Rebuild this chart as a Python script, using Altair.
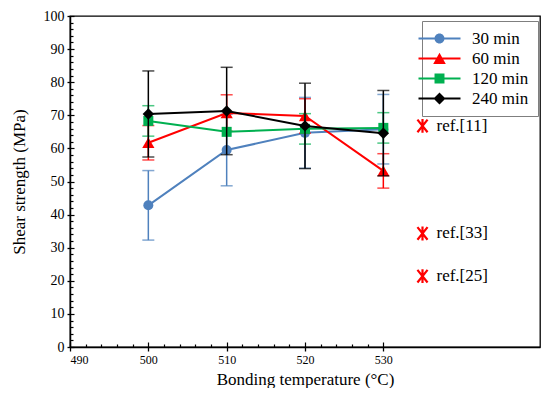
import altair as alt
import pandas as pd

# ---- data ----
temps = [500, 510, 520, 530]
series_names = ["30 min", "60 min", "120 min", "240 min"]
values = {
    "30 min": [42.8, 59.5, 64.7, 65.8],
    "60 min": [61.7, 70.7, 69.8, 53.2],
    "120 min": [68.3, 65.0, 65.9, 66.2],
    "240 min": [70.4, 71.3, 66.8, 64.6],
}
errors = {
    "30 min": [10.5, 10.8, 10.7, 10.5],
    "60 min": [5.2, 5.5, 5.2, 5.2],
    "120 min": [4.6, 0.0, 4.6, 4.6],
    "240 min": [13.0, 13.2, 12.9, 12.9],
}
ref_labels = ["ref.[11]", "ref.[33]", "ref.[25]"]
ref_values = [66.8, 34.3, 21.4]
ref_temp = [535, 535, 535]

x_ticks = [490, 500, 510, 520, 530]
y_ticks = [0, 10, 20, 30, 40, 50, 60, 70, 80, 90, 100]
x_minor = list(range(490, 531, 2))
y_minor = list(range(0, 101, 2))

# ---- styles ----
colors = ["#4F81BD", "#FF0000", "#00B050", "#000000"]
shapes = ["circle", "triangle-up", "square", "diamond"]
sizes = [100, 150, 100, 130]
LINE = "M-3.5,-0.17L3.5,-0.17L3.5,0.17L-3.5,0.17Z "
legend_paths = [
    LINE + "M0.83,0A0.83,0.83 0 1,1 -0.83,0A0.83,0.83 0 1,1 0.83,0Z",
    LINE + "M0,-0.95L1.05,0.9L-1.05,0.9Z",
    LINE + "M-0.83,-0.83L0.83,-0.83L0.83,0.83L-0.83,0.83Z",
    LINE + "M0,-1L1,0L0,1L-1,0Z",
]
FONT = "Liberation Serif"
W, H = 470, 331

rows = []
for s in series_names:
    for t, v, e in zip(temps, values[s], errors[s]):
        rows.append({"series": s, "temp": t, "value": v, "lo": v - e, "hi": v + e, "err": e})
df = pd.DataFrame(rows)
ref_df = pd.DataFrame({"temp": ref_temp, "value": ref_values, "label": ref_labels})

xscale = alt.Scale(domain=[490, 550], nice=False, zero=False)
yscale = alt.Scale(domain=[0, 100], nice=False)

x_axis = alt.Axis(values=x_ticks, format="d", grid=False, tickSize=4,
                  labelPadding=3, titlePadding=6, labelFontSize=12,
                  titleFontSize=17, domainColor="black", tickColor="black",
                  domainWidth=1.5, tickWidth=1.3)
y_axis = alt.Axis(values=y_ticks, grid=False, tickSize=3, labelPadding=3,
                  titlePadding=15, labelFontSize=14, titleFontSize=17,
                  domainColor="black", tickColor="black", domainWidth=1.5,
                  tickWidth=1.3)


def X(field):
    return alt.X(field, scale=xscale, axis=x_axis, title="Bonding temperature (°C)")


def Y(field):
    return alt.Y(field, scale=yscale, axis=y_axis, title="Shear strength (MPa)")


layers = []
for i, s in enumerate(series_names):
    sd = df[df["series"] == s]
    base = alt.Chart(sd)
    eb = sd[sd["err"] > 0]
    if len(eb):
        ebase = alt.Chart(eb)
        layers.append(ebase.mark_rule(color=colors[i], strokeWidth=1.5).encode(
            x=X("temp:Q"), y=Y("lo:Q"), y2="hi:Q"))
        layers.append(ebase.mark_tick(color=colors[i], orient="horizontal", size=12,
                                      thickness=1.5).encode(x=X("temp:Q"), y=Y("lo:Q")))
        layers.append(ebase.mark_tick(color=colors[i], orient="horizontal", size=12,
                                      thickness=1.5).encode(x=X("temp:Q"), y=Y("hi:Q")))
    layers.append(base.mark_line(color=colors[i], strokeWidth=2).encode(
        x=X("temp:Q"), y=Y("value:Q")))
    layers.append(base.mark_point(filled=True, opacity=1, color=colors[i], shape=shapes[i],
                                  size=sizes[i]).encode(x=X("temp:Q"), y=Y("value:Q")))

# reference markers
star = "M-0.8,-1L0.8,1M-0.8,1L0.8,-1M0,-1.1L0,1.1"
ref_base = alt.Chart(ref_df)
layers.append(ref_base.mark_point(shape=star, size=160, color="#FF0000", strokeWidth=2.2,
                                  filled=False, opacity=1).encode(x=X("temp:Q"), y=Y("value:Q")))
layers.append(ref_base.mark_text(align="left", baseline="middle", dx=14, fontSize=17,
                                 font=FONT, color="black").encode(
    x=X("temp:Q"), y=Y("value:Q"), text="label:N"))

main = alt.layer(*layers)

# legend-only layer (no marks drawn) which also carries the inward ticks
legend_layer = alt.Chart(df).transform_filter("false").mark_point(filled=True, opacity=1).encode(
    x=alt.X("temp:Q", scale=xscale,
            axis=alt.Axis(orient="top", offset=-H, values=x_minor, labels=False, domain=False,
                          title=None, grid=False, tickColor="black", tickWidth=1.2,
                          tickSize={"condition": {"test": "datum.value % 10 === 0", "value": 5},
                                    "value": 3})),
    y=alt.Y("value:Q", scale=yscale,
            axis=alt.Axis(orient="right", offset=-W, values=y_minor, labels=False, domain=False,
                          title=None, grid=False, tickColor="black", tickWidth=1.2,
                          tickSize={"condition": {"test": "datum.value % 10 === 0", "value": 4},
                                    "value": 3})),
    color=alt.Color("series:N", scale=alt.Scale(domain=series_names, range=colors),
                    legend=alt.Legend(title=None, orient="none", legendX=352, legendY=5,
                                      symbolSize=144, labelFontSize=17, labelFont=FONT,
                                      rowPadding=2, labelOffset=24, padding=9,
                                      strokeColor="#7f7f7f", fillColor="white",
                                      symbolStrokeWidth=0, labelColor="black")),
    shape=alt.Shape("series:N", scale=alt.Scale(domain=series_names, range=legend_paths)),
)

chart = alt.layer(main, legend_layer).resolve_axis(x="independent", y="independent").properties(
    width=W, height=H,
    autosize=alt.AutoSizeParams(type="none"),
    padding={"left": 62, "top": 8, "right": 2, "bottom": 41},
).configure(font=FONT).configure_view(stroke="black", strokeWidth=1.3).configure_axis(
    labelFont=FONT, titleFont=FONT, labelColor="black", titleColor="black",
    titleFontWeight="normal")

chart.save("out.html", embed_options={"renderer": "svg", "actions": False})
